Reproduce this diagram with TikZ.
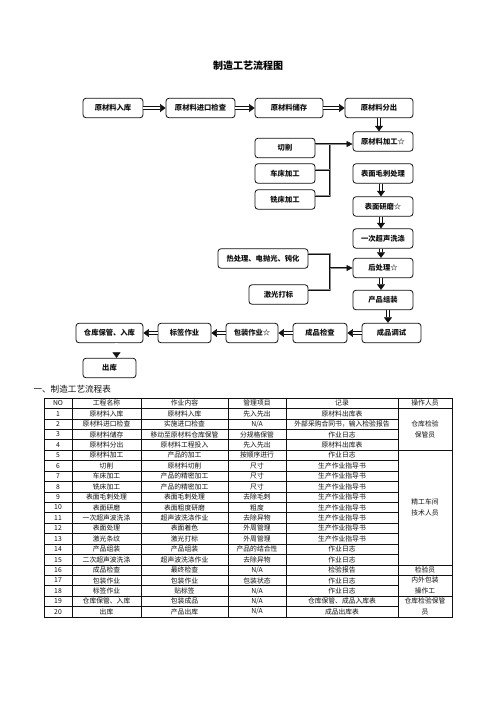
\documentclass[tikz,border=0pt]{standalone}
\usepackage{fontspec}
\setmainfont{Noto Sans CJK SC}
\usepackage{xcolor}
\usetikzlibrary{arrows.meta,positioning,calc}
\definecolor{Ink}{HTML}{111111}
\definecolor{BusGrey}{HTML}{8A8A8A}

\begin{document}
\begin{tikzpicture}[x=1pt,y=-1pt]
  \path[use as bounding box] (0,0) rectangle (496,702);

  \tikzset{
    mfBox/.style={
      draw=Ink,
      fill=white,
      line width=.8pt,
      rounded corners=3pt,
      minimum height=19.5pt,
      inner sep=0pt,
      font=\bfseries\fontsize{7.3}{8}\selectfont,
      text=Ink
    },
    mfHollow/.style={
      draw=Ink,
      line width=.55pt,
      double=white,
      double distance=2.2pt,
      -{Triangle[length=5.5pt,width=8pt]}
    },
    mfBus/.style={
      draw=Ink,
      line width=.6pt,
      double=BusGrey,
      double distance=.8pt,
      line join=round
    },
    mfFeed/.style={
      mfBus,
      -{Triangle[length=6pt,width=6pt]}
    },
    mfCell/.style={
      font=\fontsize{6.8}{11}\selectfont,
      inner sep=0pt,
      align=center,
      text=Ink
    }
  }

  \node[font=\bfseries\fontsize{10}{12}\selectfont] (title) at (248,66) {制造工艺流程图};

  % 原材料主线
  \node[mfBox, minimum width=60pt] (rawIn) at (113,108) {原材料入库};
  \node[mfBox, minimum width=69pt] (inspect) at (200.5,108) {原材料进口检查};
  \node[mfBox, minimum width=68pt] (store) at (289,108) {原材料储存};
  \node[mfBox, minimum width=68pt] (dispatch) at (379,108) {原材料分出};

  \node[mfBox, minimum width=60pt] (proc) at (383,141.5) {原材料加工☆};
  \node[mfBox, minimum width=60pt] (cut) at (285,148) {切削};
  \node[mfBox, minimum width=60pt] (lathe) at (285,173.5) {车床加工};
  \node[mfBox, minimum width=60pt] (mill) at (285,199.5) {铣床加工};

  \node[mfBox, minimum width=60pt] (deburr) at (383,173.5) {表面毛刺处理};
  \node[mfBox, minimum width=60pt] (grind) at (383,206.5) {表面研磨☆};
  \node[mfBox, minimum width=60pt] (wash) at (383,238.5) {一次超声洗涤};
  \node[mfBox, minimum width=60pt] (post) at (383,268) {后处理☆};
  \node[mfBox, minimum width=90pt] (heat) at (263,258.5) {热处理、电抛光、钝化};
  \node[mfBox, minimum width=59pt] (laser) at (278.5,294.5) {激光打标};
  \node[mfBox, minimum width=60pt] (assemble) at (383,300) {产品组装};

  % 成品线（右向左）
  \node[mfBox, minimum width=59pt] (debug) at (391.5,333) {成品调试};
  \node[mfBox, minimum width=54pt] (final) at (320,333) {成品检查};
  \node[mfBox, minimum width=52pt] (pack) at (252,333) {包装作业☆};
  \node[mfBox, minimum width=53pt] (label) at (184.5,333) {标签作业};
  \node[mfBox, minimum width=67pt] (stock) at (109.5,333) {仓库保管、入库};
  \node[mfBox, minimum width=53pt] (ship) at (109.5,368) {出库};

  \draw[mfHollow] (rawIn) -- (inspect);
  \draw[mfHollow] (inspect) -- (store);
  \draw[mfHollow] (store) -- (dispatch);
  \draw[mfHollow] (dispatch.south) -- (dispatch.south |- proc.north);
  \draw[mfHollow] ([xshift=-2pt]deburr.south) -- ([xshift=-2pt]deburr.south |- grind.north);
  \draw[mfHollow] ([xshift=-2pt]grind.south) -- ([xshift=-2pt]grind.south |- wash.north);
  \draw[mfHollow] ([xshift=-2pt]wash.south) -- ([xshift=-2pt]wash.south |- post.north);
  \draw[mfHollow] ([xshift=-2pt]post.south) -- ([xshift=-2pt]post.south |- assemble.north);
  \draw[mfHollow] ([xshift=5pt]assemble.south) -- ([xshift=5pt]assemble.south |- debug.north);
  \draw[mfHollow] (debug) -- (final);
  \draw[mfHollow] (final) -- (pack);
  \draw[mfHollow] (pack) -- (label);
  \draw[mfHollow] (label) -- (stock);
  \draw[mfHollow] ([xshift=7pt]stock.south) -- ([xshift=7pt]stock.south |- ship.north);

  % 支线汇入
  \coordinate (busX) at (330,0);
  \draw[mfBus] ([yshift=4pt]mill.east) -| ([yshift=4pt]cut.east -| busX);
  \draw[mfBus] ([yshift=4pt]lathe.east) -- ([yshift=4pt]lathe.east -| busX);
  \draw[mfFeed] ([yshift=4pt]cut.east) -- ([yshift=4pt]cut.east -| proc.west);
  \draw[mfBus] ([yshift=5pt]heat.east) -| ([yshift=5pt]laser.east -| busX) -- ([yshift=5pt]laser.east);
  \draw[mfFeed] (post.west -| busX) -- (post.west);

  \node[anchor=west, font=\fontsize{8.6}{10}\selectfont, text=Ink] (tableTitle) at (30,389) {一、制造工艺流程表};

  % 流程表
  \node[mfCell] (headNo) at (58,403.2) {NO};
  \node[mfCell] (headName) at (106.5,403.2) {工程名称};
  \node[mfCell] (headWork) at (184.5,403.2) {作业内容};
  \node[mfCell] (headItem) at (257,403.2) {管理项目};
  \node[mfCell] (headRec) at (342,403.2) {记录};
  \node[mfCell] (headStaff) at (425,403.2) {操作人员};

  \foreach \no/\name/\work/\item/\rec in {
      1/原材料入库/原材料入库/先入先出/原材料出库表,
      2/原材料进口检查/实施进口检查/{N/A}/外部采购合同书，输入检验报告,
      3/原材料储存/移动至原材料仓库保管/分规格保管/作业日志,
      4/原材料分出/原材料工程投入/先入先出/原材料出库表,
      5/原材料加工/产品的加工/按顺序进行/作业日志,
      6/切削/原材料切削/尺寸/生产作业指导书,
      7/车床加工/产品的精密加工/尺寸/生产作业指导书,
      8/铣床加工/产品的精密加工/尺寸/生产作业指导书,
      9/表面毛刺处理/表面毛刺处理/去除毛刺/生产作业指导书,
      10/表面研磨/表面粗度研磨/粗度/生产作业指导书,
      11/一次超声波洗涤/超声波洗涤作业/去除异物/生产作业指导书,
      12/表面处理/表面着色/外周管理/生产作业指导书,
      13/激光条纹/激光打标/外周管理/生产作业指导书,
      14/产品组装/产品组装/产品的结合性/作业日志,
      15/二次超声波洗涤/超声波洗涤作业/去除异物/作业日志,
      16/成品检查/最终检查/{N/A}/检验报告,
      17/包装作业/包装作业/包装状态/作业日志,
      18/标签作业/贴标签/{N/A}/作业日志,
      19/仓库保管、入库/包装成品/{N/A}/仓库保管、成品入库表,
      20/出库/产品出库/{N/A}/成品出库表}{
    \node[mfCell] (no\no) at (58,{398+(\no+.5)*10.43}) {\no};
    \node[mfCell] (name\no) at (106.5,{398+(\no+.5)*10.43}) {\name};
    \node[mfCell] (work\no) at (184.5,{398+(\no+.5)*10.43}) {\work};
    \node[mfCell] (item\no) at (257,{398+(\no+.5)*10.43}) {\item};
    \node[mfCell] (rec\no) at (342,{398+(\no+.5)*10.43}) {\rec};
  }

  \node[mfCell] (staffStore) at (425,{398+3*10.43}) {仓库检验\\保管员};
  \node[mfCell] (staffShop) at (425,{398+10.5*10.43}) {精工车间\\技术人员};
  \node[mfCell] (staffCheck) at (425,{398+16.5*10.43}) {检验员};
  \node[mfCell] (staffPack) at (425,{398+18*10.43}) {内外包装\\操作工};
  \node[mfCell] (staffShip) at (425,{398+20*10.43}) {仓库检验保管\\员};

  \foreach \cx in {72,141,228,286,398}
    \draw[Ink, line width=.5pt] (\cx,398) -- (\cx,{398+21*10.43});
  \foreach \k in {1,...,20}
    \draw[Ink, line width=.5pt] (44,{398+\k*10.43}) -- (398,{398+\k*10.43});
  \foreach \k in {1,5,16,17,19}
    \draw[Ink, line width=.5pt] (398,{398+\k*10.43}) -- (452,{398+\k*10.43});
  \draw[Ink, line width=.9pt] (44,398) rectangle (452,{398+21*10.43});
\end{tikzpicture}
\end{document}
